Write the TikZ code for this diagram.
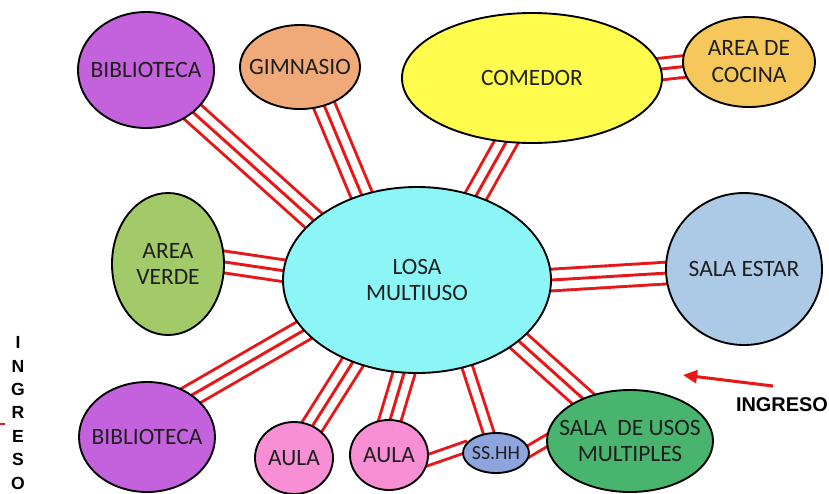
\documentclass[tikz,border=0pt]{standalone}
\usepackage{fontspec}
\setmainfont{Carlito}
\newfontfamily\ingresofont{Liberation Sans}
\definecolor{cwLosa}{RGB}{140,246,246}
\definecolor{cwBiblio}{RGB}{196,98,222}
\definecolor{cwGimna}{RGB}{240,170,122}
\definecolor{cwComedor}{RGB}{255,252,78}
\definecolor{cwCocina}{RGB}{246,200,92}
\definecolor{cwVerde}{RGB}{162,202,104}
\definecolor{cwEstar}{RGB}{172,202,230}
\definecolor{cwAula}{RGB}{248,142,212}
\definecolor{cwBano}{RGB}{142,164,220}
\definecolor{cwUsos}{RGB}{72,180,110}
\definecolor{cwLine}{RGB}{232,22,22}
\usetikzlibrary{shapes,arrows.meta,backgrounds}

\begin{document}
\begin{tikzpicture}[x=0.03cm, y=-0.03cm,
    room/.style={ellipse, draw=black, line width=1.6pt, inner sep=-30pt, align=center,
        font=\fontsize{20}{23}\selectfont, text=black!88},
    triple/.style={draw=cwLine, line width=2.5pt,
        preaction={draw=cwLine, line width=21pt},
        preaction={draw=white, line width=16pt},
        shorten <=-6pt, shorten >=-6pt},
    twin/.style={draw=cwLine, line width=11.5pt,
        postaction={draw=white, line width=6.5pt},
        shorten <=-5pt, shorten >=-5pt},
    ingreso/.style={font=\ingresofont\bfseries\fontsize{17}{20}\selectfont, align=center}]
    \useasboundingbox (0,0) rectangle (829,493);

    % rooms
    \node[room, fill=cwLosa, minimum width=8.04cm, minimum height=5.58cm] (losa) at (417,280) {LOSA\\MULTIUSO};
    \node[room, fill=cwBiblio, minimum width=4.08cm, minimum height=3.48cm] (biblioA) at (146,70) {BIBLIOTECA};
    \node[room, fill=cwGimna, minimum width=3.6cm, minimum height=2.52cm] (gimnasio) at (300,67) {GIMNASIO};
    \node[room, fill=cwComedor, minimum width=7.8cm, minimum height=3.9cm] (comedor) at (532,78) {COMEDOR};
    \node[room, fill=cwCocina, minimum width=3.96cm, minimum height=2.7cm] (cocina) at (749,62) {AREA DE\\COCINA};
    \node[room, fill=cwVerde, minimum width=3.36cm, minimum height=4.26cm] (verde) at (168,264) {AREA\\VERDE};
    \node[room, fill=cwEstar, minimum width=4.68cm, minimum height=4.56cm] (estar) at (744,269) {SALA ESTAR};
    \node[room, fill=cwBiblio, minimum width=4.08cm, minimum height=3.3cm] (biblioB) at (147,437) {BIBLIOTECA};
    \node[room, fill=cwAula, minimum width=2.34cm, minimum height=2.16cm] (aulaA) at (294,458) {AULA};
    \node[room, fill=cwAula, minimum width=2.34cm, minimum height=2.1cm] (aulaB) at (389,455) {AULA};
    \node[room, fill=cwBano, minimum width=1.98cm, minimum height=1.2cm, font=\fontsize{17}{19}\selectfont] (sshh) at (496,453) {SS.HH};
    \node[room, fill=cwUsos, minimum width=4.98cm, minimum height=3.06cm] (usos) at (630,441) {SALA~ DE USOS\\MULTIPLES};

    % links
    \begin{scope}[on background layer]
        \draw[triple] (biblioA.-42) -- (losa.150);
        \draw[triple] (gimnasio.-58) -- (losa.123);
        \draw[triple] (comedor.-112) -- (losa.55);
        \draw[triple] (comedor.4) -- (cocina.184);
        \draw[triple] (verde.2) -- (losa.176);
        \draw[triple] (losa.0) -- (estar.183);
        \draw[triple] (biblioB.43) -- (losa.204);
        \draw[triple] (aulaA.60) -- (losa.232);
        \draw[triple] (aulaB.88) -- (losa.262);
        \draw[twin] (sshh.110) -- (losa.-60);
        \draw[triple] (losa.-31) -- (usos.138);
        \draw[twin] (aulaB.-7) -- (sshh.171);
        \draw[twin] (sshh.4) -- (usos.180);
    \end{scope}

    % entrances
    \node[ingreso] (ingresoE) at (782,405) {INGRESO};
    \coordinate (ingresoTail) at (773,386);
    \coordinate (ingresoTip) at (683,375);
    \draw[cwLine, line width=2.6pt, -{Triangle[length=12pt,width=11pt]}] (ingresoTail) -- (ingresoTip);

    \node[ingreso, font=\ingresofont\bfseries\fontsize{15}{20}\selectfont] (ingresoW) at (18,413) {I\\N\\G\\R\\E\\S\\O};
    \coordinate (markA) at (0,424);
    \coordinate (markB) at (5,424);
    \draw[cwLine, line width=2pt] (markA) -- (markB);
\end{tikzpicture}
\end{document}
